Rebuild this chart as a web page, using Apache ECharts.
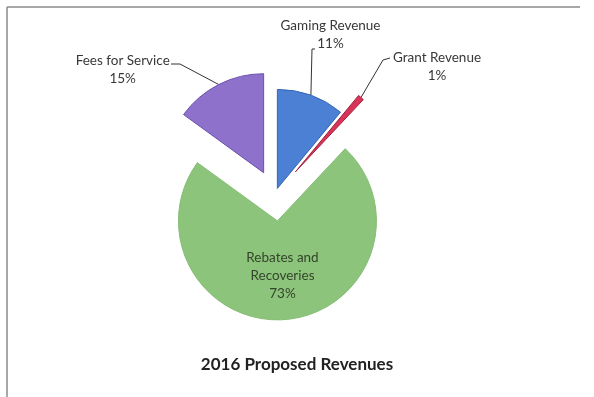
<!DOCTYPE html>
<html>
<head>
<meta charset="utf-8">
<script src="https://cdn.jsdelivr.net/npm/echarts@6/dist/echarts.min.js"></script>
<style>
  html, body { margin: 0; padding: 0; background: #ffffff; }
  #chart { width: 594px; height: 397px; }
</style>
</head>
<body>
<div id="chart"></div>
<script>
// Revenue sources and their shares (percent)
const categories = ['Gaming Revenue', 'Grant Revenue', 'Rebates and Recoveries', 'Fees for Service'];
const shares = [11, 1, 73, 15];
const labelNames = ['Gaming Revenue', 'Grant Revenue', 'Rebates and\nRecoveries', 'Fees for Service'];
const chartTitle = '2016 Proposed Revenues';

// Styling
const sliceColors = ['#4b80d5', '#d8345a', '#8cc47b', '#8d71ca'];
const edgeColors = ['#3564b6', '#a51e3c', '#86bd75', '#6a4fae'];
const explodePx = [7, 31, 26, 25];          // how far each slice is pulled out
const CX = 275, CY = 195, R = 99;
const FONT = 'Lato, "Open Sans", sans-serif';

// label placements (text block centre) and leader elbow points
const labelSpots = [
  { x: 330.5, y: 34.5, line: [[312, 49], [315, 49]] },
  { x: 437, y: 66.5, line: [[383, 60], [390, 58]] },
  { x: 282.5, y: 276 },
  { x: 122.7, y: 70, line: [[180, 64], [171, 64]] }
];

const total = shares.reduce((a, b) => a + b, 0);
let acc = 0;
const midAngles = shares.map(v => {
  const m = (acc + v / 2) / total * 360;
  acc += v;
  return m;
});
const centers = midAngles.map((m, i) => {
  const a = m * Math.PI / 180;
  return [CX + explodePx[i] * Math.sin(a), CY - explodePx[i] * Math.cos(a)];
});

const series = categories.map((cat, i) => ({
  type: 'pie',
  center: centers[i],
  radius: R,
  startAngle: 90,
  clockwise: true,
  silent: true,
  animation: false,
  avoidLabelOverlap: false,
  emphasis: { disabled: true },
  z: i === 2 ? 1 : 2,
  data: shares.map((v, j) => {
    const own = j === i;
    return {
      name: categories[j],
      value: v,
      itemStyle: own
        ? { color: sliceColors[j], borderColor: edgeColors[j], borderWidth: 1 }
        : { color: 'rgba(0,0,0,0)', borderWidth: 0 },
      label: own
        ? {
            show: true,
            position: j === 2 ? 'inside' : 'outside',
            formatter: labelNames[j] + '\n{d}%',
            fontFamily: FONT,
            fontSize: 13.5,
            lineHeight: 18,
            color: j === 2 ? '#34442b' : '#383838',
            align: 'center'
          }
        : { show: false },
      labelLine: own && j !== 2
        ? { show: true, lineStyle: { color: '#333333', width: 1 } }
        : { show: false }
    };
  }),
  labelLayout: function (params) {
    if (params.dataIndex !== i) return {};
    const spot = labelSpots[i];
    const out = { x: spot.x, y: spot.y, align: 'center', verticalAlign: 'middle' };
    if (spot.line && params.labelLinePoints) {
      out.labelLinePoints = [params.labelLinePoints[0]].concat(spot.line);
    }
    return out;
  }
}));

const chart = echarts.init(document.getElementById('chart'), null, { renderer: 'canvas' });
chart.setOption({
  backgroundColor: '#ffffff',
  animation: false,
  title: {
    text: chartTitle,
    left: 'center',
    top: 351,
    textStyle: { fontFamily: FONT, fontSize: 17, fontWeight: 'bold', color: '#222222' }
  },
  graphic: [
    { type: 'line', shape: { x1: 7, y1: 7, x2: 580, y2: 7 }, style: { stroke: '#8a8a8a', lineWidth: 1.5 }, silent: true },
    { type: 'line', shape: { x1: 7, y1: 7, x2: 7, y2: 397 }, style: { stroke: '#8a8a8a', lineWidth: 1.5 }, silent: true }
  ],
  series: series
});
</script>
</body>
</html>
